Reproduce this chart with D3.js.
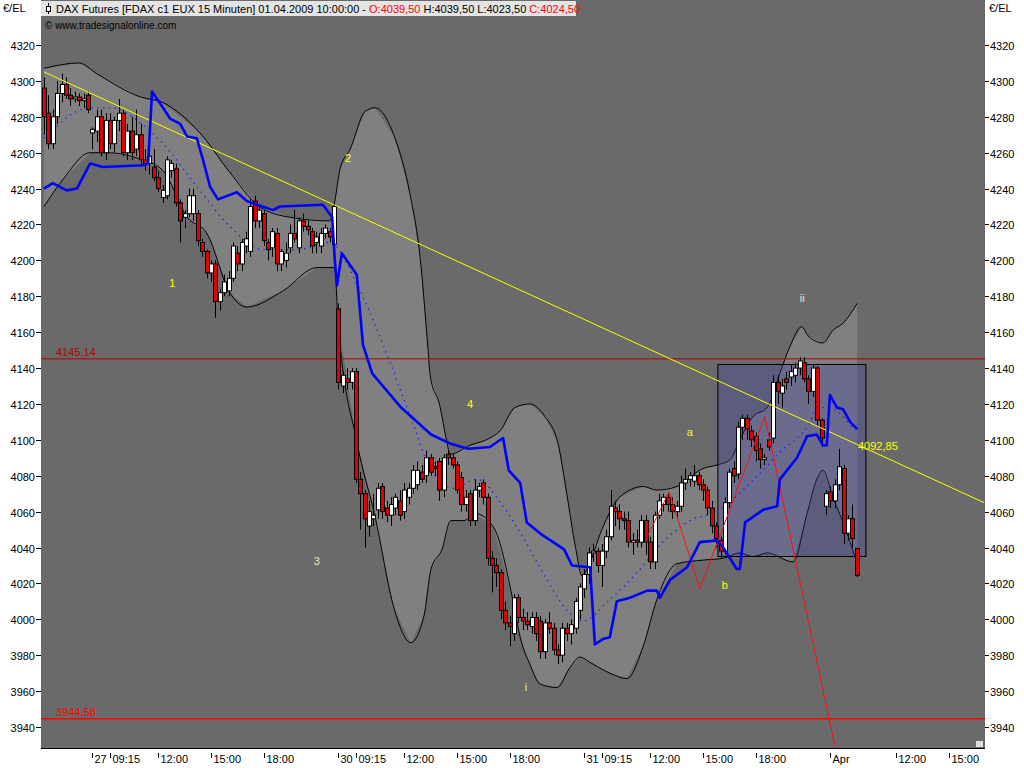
<!DOCTYPE html>
<html>
<head>
<meta charset="utf-8"/>
<script src="https://d3js.org/d3.v7.min.js"></script>
<style>
  body { margin:0; background:#fff; }
  svg text { font-family: "Liberation Sans", Arial, sans-serif; font-size:11px; }
</style>
</head>
<body>
<div id="chart"></div>
<script>
// 15 min candles, bar index 0 = 26 Mar 19:45 ... 185 = 01 Apr 10:00  [open, high, low, close]
var candles = [
 [4296,4302,4270,4280],[4282,4292,4262,4265],[4265,4284,4262,4280],[4280,4300,4276,4293],[4293,4304,4288,4298],
 [4298,4302,4290,4292],[4292,4296,4286,4290],[4290,4294,4288,4291],[4291,4293,4286,4289],[4289,4293,4285,4290],
 [4292,4294,4282,4284],[4271,4274,4262,4273],[4272,4284,4266,4280],[4280,4284,4258,4260],[4260,4282,4256,4278],
 [4278,4282,4262,4265],[4265,4280,4260,4278],[4278,4290,4272,4282],[4282,4284,4258,4260],[4260,4276,4256,4272],
 [4272,4280,4256,4260],[4262,4284,4258,4270],[4270,4276,4252,4256],[4256,4262,4250,4254],[4254,4262,4248,4258],
 [4252,4262,4244,4246],[4246,4250,4238,4240],[4235,4242,4232,4239],[4236,4258,4234,4256],[4250,4256,4246,4254],
 [4251,4254,4230,4232],[4232,4234,4210,4222],[4224,4228,4218,4226],[4226,4240,4224,4236],[4226,4240,4222,4236],
 [4226,4228,4208,4211],[4210,4212,4202,4205],[4205,4206,4190,4193],[4193,4200,4188,4198],[4198,4200,4168,4177],
 [4177,4184,4172,4182],[4182,4192,4180,4188],[4183,4194,4180,4190],[4190,4210,4188,4208],[4204,4208,4194,4198],
 [4198,4212,4194,4210],[4208,4216,4204,4212],[4205,4234,4202,4230],[4233,4236,4218,4222],[4222,4230,4218,4228],
 [4226,4228,4208,4211],[4210,4212,4200,4206],[4207,4218,4202,4216],[4215,4218,4194,4198],[4198,4206,4194,4205],
 [4200,4210,4196,4204],[4207,4220,4204,4215],[4215,4228,4210,4212],[4207,4224,4204,4222],[4222,4226,4216,4219],
 [4219,4222,4214,4217],[4216,4218,4204,4208],[4210,4216,4204,4213],[4208,4218,4204,4215],[4215,4220,4212,4218],
 [4216,4218,4210,4213],[4209,4232,4206,4230],[4173,4176,4128,4132],[4130,4138,4126,4136],[4134,4140,4128,4132],
 [4132,4140,4128,4138],[4138,4140,4076,4078],[4078,4082,4050,4070],[4070,4072,4040,4056],[4052,4066,4046,4060],
 [4056,4070,4052,4058],[4061,4076,4056,4073],[4074,4076,4056,4060],[4062,4066,4054,4058],[4058,4068,4052,4064],
 [4062,4070,4058,4068],[4066,4072,4055,4058],[4060,4076,4056,4072],[4068,4076,4064,4073],[4073,4086,4070,4083],
 [4075,4088,4072,4083],[4082,4086,4076,4078],[4080,4094,4076,4090],[4090,4092,4080,4082],[4085,4088,4080,4084],
 [4088,4090,4066,4072],[4072,4092,4068,4090],[4092,4094,4086,4090],[4090,4092,4084,4086],[4086,4088,4070,4072],
 [4079,4082,4060,4064],[4064,4072,4060,4068],[4070,4072,4052,4055],[4055,4078,4052,4072],[4072,4076,4068,4074],
 [4076,4078,4064,4068],[4068,4070,4030,4034],[4034,4038,4015,4030],[4030,4034,4018,4026],[4026,4028,4000,4005],
 [4005,4010,3994,3998],[3998,4002,3985,3996],[3992,4014,3988,4012],[4012,4014,3998,4001],[4001,4006,3994,3999],
 [3999,4004,3994,3997],[3996,4004,3992,4001],[4001,4004,3988,3992],[3999,4002,3978,3982],[3982,4000,3978,3998],
 [3998,4004,3992,3995],[3995,3998,3980,3983],[3983,3986,3975,3980],[3980,3998,3976,3995],[3995,3998,3988,3992],
 [3992,4000,3986,3997],[3995,4012,3992,4010],[4005,4020,4000,4018],[4017,4028,4012,4025],[4025,4040,4020,4037],
 [4037,4042,4032,4038],[4038,4040,4026,4030],[4030,4042,4018,4038],[4038,4050,4034,4046],[4046,4072,4044,4063],
 [4062,4066,4052,4060],[4060,4064,4050,4056],[4056,4060,4050,4055],[4055,4060,4040,4043],[4043,4048,4036,4044],
 [4044,4050,4040,4043],[4043,4058,4040,4055],[4055,4058,4036,4043],[4043,4046,4028,4032],[4032,4060,4028,4058],
 [4058,4070,4056,4066],[4064,4070,4060,4068],[4068,4070,4060,4064],[4064,4068,4056,4060],[4060,4066,4056,4063],
 [4063,4080,4060,4076],[4076,4084,4072,4078],[4078,4082,4074,4080],[4077,4086,4074,4080],[4080,4082,4072,4075],
 [4075,4078,4066,4072],[4072,4074,4058,4062],[4062,4066,4048,4052],[4052,4054,4040,4045],[4044,4046,4034,4038],
 [4038,4068,4036,4065],[4065,4084,4062,4082],[4084,4088,4076,4080],[4081,4110,4078,4107],[4107,4114,4100,4112],
 [4112,4114,4100,4106],[4105,4108,4096,4100],[4102,4104,4088,4094],[4095,4098,4084,4089],[4089,4092,4086,4090],
 [4100,4104,4094,4096],[4101,4136,4098,4132],[4132,4136,4120,4127],[4126,4134,4118,4130],[4134,4138,4128,4132],
 [4135,4142,4130,4138],[4136,4143,4132,4140],[4140,4146,4136,4144],[4143,4146,4132,4134],[4134,4136,4120,4127],
 [4127,4142,4124,4140],[4140,4141,4108,4111],[4111,4112,4096,4101],[4063,4072,4058,4070],[4071,4074,4062,4066],
 [4066,4078,4062,4075],[4075,4095,4072,4085],[4084,4086,4042,4048],[4048,4058,4044,4056],[4056,4064,4040,4045],
 [4039.5,4039.5,4023.5,4024.5]
];
// [bar index, price]
var upperBand = [[0,4307],[8,4310],[12,4304],[22,4291],[27,4288],[35.5,4271],[42,4250],[49,4230],[56,4224],[65,4222],
 [66.2,4233],[67.4,4251],[69.7,4262],[73.1,4283],[75.3,4285],[79.9,4268],[83.3,4237],[85.6,4202],[87.4,4151],[87.9,4136],
 [90.1,4119],[91.7,4099],[92.4,4092],[97,4097],[101.5,4101],[103.8,4105],[107.2,4118],[110.6,4120],[114,4113],[117,4098],
 [119,4070],[121,4040],[122.5,4024],[124,4030],[127,4050],[131,4068],[136.4,4074],[139.5,4072],[144.1,4074],[150,4084],
 [153.2,4086],[156.2,4089],[158.4,4100],[161.4,4113],[164.6,4118],[167.5,4137],[169.8,4152],[172.5,4163],[173.9,4158],
 [177.3,4154],[179.6,4161],[181.9,4165],[185.1,4176]];
var lowerBand = [[0,4230],[4.3,4245],[10.5,4260],[14.3,4260],[21.2,4257],[27.1,4250],[32.6,4224],[37.1,4215],[42.3,4182],
 [46.2,4174],[54.4,4183],[62.1,4196],[66.2,4196],[66.9,4167],[71.2,4099],[75.3,4058],[79.7,4006],[83.5,3987],[86.5,4002],
 [88.1,4028],[90.6,4039],[92.6,4055],[95.6,4055],[98.1,4059],[102.4,4051],[106.8,4010],[108.4,3990],[110.6,3975],
 [112.9,3964],[116.8,3962],[119.7,3973],[122,3979],[124.3,3976],[128.8,3970],[132.7,3967],[136.4,3985],[139.5,4011],
 [144.1,4031],[150,4033],[154.6,4034],[158.4,4037],[161.4,4035],[164.6,4037],[170.5,4032],[173.7,4059],[175.9,4078],
 [177.3,4083],[179.6,4068],[182.8,4048],[185.1,4031]];
var midBand = [[0,4268],[10.5,4285],[15.7,4285],[21.2,4278],[27.1,4265],[34.8,4241],[42.3,4219],[49.9,4206],[57.6,4206],
 [65.1,4210],[71.2,4187],[77.2,4153],[84,4109],[88.1,4083],[93.1,4073],[98.6,4078],[104.5,4063],[110.6,4039],[114.5,4022],
 [119.1,4005],[122.7,3999],[128.8,4011],[135,4026],[140.9,4043],[147,4055],[153.2,4060],[160,4074],[167.5,4093],
 [173.7,4107],[176.6,4118],[179.6,4117],[184.2,4106]];
var blueLine = [[0,4240],[2,4243],[5.2,4239],[7.5,4240],[10.5,4254],[13.4,4252],[22.5,4253],[23.7,4254],[24.6,4294],
 [27.1,4285],[28.7,4279],[31,4276],[32.6,4269],[34.8,4268],[36.2,4256],[37.8,4241],[39.6,4234],[43.9,4238],[46.2,4233],
 [52.1,4228],[53.7,4230],[63.5,4231],[65.6,4224],[66.2,4200],[66.7,4186],[67.8,4204],[71.2,4192],[72.6,4153],[74.7,4137],
 [81.3,4118],[88.1,4103],[92.4,4098],[96.5,4095],[101.5,4096],[104.5,4101],[105.8,4083],[108.4,4076],[109.9,4054],
 [113.4,4047],[118.4,4039],[120.2,4030],[124.3,4029],[125.4,3986],[127.2,3989],[128.8,3990],[130.4,4010],[133.4,4012],
 [137.3,4016],[139.5,4016],[140.2,4012],[142.5,4022],[146.4,4029],[149.3,4043],[153.2,4044],[154.6,4040],[157.7,4028],
 [158.4,4028],[159.6,4054],[163.7,4061],[166.9,4063],[167.5,4078],[171.4,4090],[173.7,4102],[175.9,4103],[177.3,4097],
 [178.2,4097],[178.9,4125],[180.5,4118],[181.9,4117],[183.5,4110],[185.1,4106]];
var trendLine = [[0,4305],[214,4065]];
var zigzag = [[137.3,4046],[142.3,4071],[149.3,4017],[164.1,4113],[180,3930]];
var waveLabels = [["1",29.2,4185],["2",69.2,4255],["3",62.1,4030],["4",97,4118],["i",109.7,3960],["ii",172.6,4177],["a",147,4102],["b",155,4017]];
var boxRange = {i0:153.4, i1:187.1, p0:4035, p1:4142};
var levels = [{v:4145.14, label:"4145,14", color:"#b00000", w:1}, {v:3944.58, label:"3944,58", color:"#ff0000", w:1.5}];
var xTicks = [[11,"27"],[15,"09:15"],[26,"12:00"],[38,"15:00"],[50,"18:00"],[67,"30"],[71,"09:15"],[82,"12:00"],[94,"15:00"],
 [106,"18:00"],[123,"31"],[127,"09:15"],[138,"12:00"],[150,"15:00"],[162,"18:00"],[179,"Apr"],[194,"12:00"],[206,"15:00"]];
var yTicks = d3.range(3940, 4321, 20);

var W = 1024, H = 768;
var plot = {l:41, r:985, t:0, b:748};
var svg = d3.select("#chart").append("svg").attr("width", W).attr("height", H);

var x = d3.scaleLinear().domain([0, 214]).range([44, 44 + 214 * 4.393]);
var y = d3.scaleLinear().domain([3940, 4320]).range([727, 45]);
var fmt = function(v){ return v.toFixed(2).replace(".", ","); };

svg.append("defs").append("clipPath").attr("id","clip").append("rect")
  .attr("x", plot.l).attr("y", plot.t).attr("width", plot.r - plot.l).attr("height", plot.b - plot.t);
svg.append("rect").attr("x", plot.l).attr("y", plot.t).attr("width", plot.r - plot.l).attr("height", plot.b - plot.t)
  .attr("fill", "#6a6a6a");

var g = svg.append("g").attr("clip-path", "url(#clip)");
var line = d3.line().x(function(d){ return x(d[0]); }).y(function(d){ return y(d[1]); });

// band fill
var bandPoly = upperBand.concat(lowerBand.slice().reverse());
g.append("path").attr("d", line(bandPoly) + "Z").attr("fill", "#808080");
g.append("path").attr("d", line.curve(d3.curveMonotoneX)(upperBand)).attr("fill","none").attr("stroke","#000").attr("stroke-width",1);
g.append("path").attr("d", line(lowerBand)).attr("fill","none").attr("stroke","#000").attr("stroke-width",1);
line.curve(d3.curveLinear);

// levels
levels.forEach(function(l){
  g.append("line").attr("x1", plot.l).attr("x2", plot.r).attr("y1", y(l.v)).attr("y2", y(l.v))
    .attr("stroke", l.color).attr("stroke-width", l.w);
  svg.append("text").attr("x", 56).attr("y", y(l.v) - 3).attr("fill", l.color).text(l.label);
});

// box
g.append("rect").attr("x", x(boxRange.i0)).attr("y", y(boxRange.p1))
  .attr("width", x(boxRange.i1) - x(boxRange.i0)).attr("height", y(boxRange.p0) - y(boxRange.p1))
  .attr("fill", "rgba(60,60,165,0.3)").attr("stroke", "#000").attr("stroke-width", 1);

// midline dotted
g.append("path").attr("d", line.curve(d3.curveMonotoneX)(midBand)).attr("fill","none")
  .attr("stroke","#1a1aff").attr("stroke-width",1.3).attr("stroke-dasharray","1.3,4.5");
line.curve(d3.curveLinear);

// candles
var bw = 3;
var cg = g.append("g");
candles.forEach(function(c, i){
  var cx = Math.round(x(i)) + 0.5;
  var o = c[0], h = c[1], lo = c[2], cl = c[3];
  cg.append("line").attr("x1", cx).attr("x2", cx).attr("y1", y(h)).attr("y2", y(lo)).attr("stroke","#000");
  var top = y(Math.max(o, cl)), bot = y(Math.min(o, cl));
  cg.append("rect").attr("x", cx - bw/2 - 0.5).attr("y", top).attr("width", bw + 1).attr("height", Math.max(1, bot - top))
    .attr("fill", cl >= o ? "#ffffff" : "#e00000").attr("stroke", "#000").attr("stroke-width", 1);
});

// trend, zigzag, blue
g.append("path").attr("d", line(trendLine)).attr("stroke","#ffff00").attr("stroke-width",1).attr("fill","none");
g.append("path").attr("d", line(zigzag)).attr("stroke","#ff1010").attr("stroke-width",1).attr("fill","none");
g.append("path").attr("d", line(blueLine)).attr("stroke","#0000ff").attr("stroke-width",2.6).attr("fill","none")
  .attr("stroke-linejoin","round");

// labels
waveLabels.forEach(function(w){
  svg.append("text").attr("x", x(w[1])).attr("y", y(w[2])).attr("text-anchor","middle")
    .attr("fill", (w[0] === "i" || w[0] === "ii" || w[0] === "3") ? "#e8e8c8" : "#ffff00").text(w[0]);
});
svg.append("text").attr("x", 858).attr("y", y(4092.85) - 3).attr("fill","#ffff00").text(fmt(4092.85));

// y axes
yTicks.forEach(function(v){
  var yy = Math.round(y(v)) + 0.5;
  svg.append("line").attr("x1", 36).attr("x2", plot.l).attr("y1", yy).attr("y2", yy).attr("stroke","#000");
  svg.append("text").attr("x", 35).attr("y", yy + 4).attr("text-anchor","end").text(v);
  svg.append("line").attr("x1", plot.r).attr("x2", plot.r + 4).attr("y1", yy).attr("y2", yy).attr("stroke","#000");
  svg.append("text").attr("x", plot.r + 5).attr("y", yy + 4).text(v);
});
svg.append("text").attr("x", 3).attr("y", 12).text("€/EL");
svg.append("text").attr("x", 989).attr("y", 12).text("€/EL");

// x axis
svg.append("line").attr("x1", plot.l).attr("x2", plot.r).attr("y1", plot.b + 0.5).attr("y2", plot.b + 0.5).attr("stroke","#000");
xTicks.forEach(function(t){
  var xx = Math.round(x(t[0])) + 0.5;
  svg.append("line").attr("x1", xx).attr("x2", xx).attr("y1", 753).attr("y2", 758).attr("stroke","#000");
  svg.append("text").attr("x", xx + 2).attr("y", 763).text(t[1]);
});

// header
svg.append("rect").attr("x", plot.l).attr("y", 1).attr("width", 535).attr("height", 15).attr("fill", "#e4e4e4");
svg.append("line").attr("x1", 48.5).attr("x2", 48.5).attr("y1", 3).attr("y2", 14).attr("stroke","#000");
svg.append("rect").attr("x", 46.5).attr("y", 6.5).attr("width", 4).attr("height", 5).attr("fill","#fff").attr("stroke","#000");
var hdr = svg.append("text").attr("x", 56).attr("y", 13);
hdr.append("tspan").text("DAX Futures [FDAX c1 EUX  15 Minuten] 01.04.2009 10:00:00 - ");
hdr.append("tspan").attr("fill","#ff0000").text("O:" + fmt(candles[185][0]));
hdr.append("tspan").text(" H:" + fmt(candles[185][1]) + " L:" + fmt(candles[185][2]) + " ");
hdr.append("tspan").attr("fill","#ff0000").text("C:" + fmt(candles[185][3]));
svg.append("text").attr("x", 45).attr("y", 29).style("font-size","10px").text("© www.tradesignalonline.com");
svg.append("rect").attr("x", 976).attr("y", 741).attr("width", 7).attr("height", 6).attr("fill", "#ddd");
</script>
</body>
</html>
